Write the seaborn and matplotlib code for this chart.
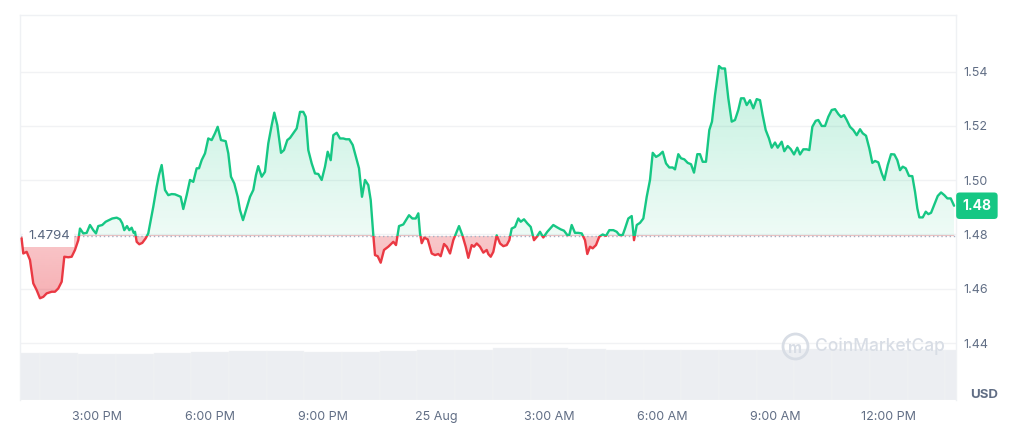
import numpy as np
import pandas as pd
import seaborn as sns
import matplotlib.pyplot as plt
import matplotlib.transforms as mtransforms
from matplotlib.patches import Polygon, Rectangle

# hours counted from 24 Aug 00:00
hours = [
    13.000, 13.045, 13.135, 13.223, 13.310, 13.400, 13.488, 13.575, 13.666, 13.798,
    13.886, 13.973, 14.064, 14.133, 14.239, 14.329, 14.416, 14.504, 14.549, 14.637,
    14.727, 14.814, 14.902, 14.973, 15.034, 15.140, 15.231, 15.318, 15.406, 15.523,
    15.610, 15.671, 15.724, 15.796, 15.857, 15.920, 15.973, 16.008, 16.053, 16.122,
    16.201, 16.292, 16.360, 16.493, 16.583, 16.644, 16.716, 16.804, 16.891, 16.981,
    17.069, 17.156, 17.220, 17.289, 17.379, 17.467, 17.554, 17.644, 17.706, 17.777,
    17.865, 17.952, 18.042, 18.130, 18.201, 18.289, 18.414, 18.483, 18.554, 18.642,
    18.732, 18.793, 18.873, 18.952, 19.059, 19.146, 19.217, 19.278, 19.369, 19.456,
    19.544, 19.634, 19.703, 19.783, 19.881, 19.960, 20.048, 20.120, 20.207, 20.297,
    20.385, 20.472, 20.536, 20.605, 20.695, 20.783, 20.870, 20.960, 21.048, 21.119,
    21.199, 21.268, 21.358, 21.446, 21.533, 21.605, 21.692, 21.783, 21.870, 21.950,
    22.029, 22.109, 22.197, 22.260, 22.329, 22.374, 22.445, 22.525, 22.613, 22.727,
    22.860, 22.931, 23.011, 23.125, 23.196, 23.276, 23.364, 23.454, 23.523, 23.568,
    23.613, 23.682, 23.772, 23.878, 23.966, 24.053, 24.117, 24.205, 24.276, 24.364,
    24.451, 24.541, 24.602, 24.690, 24.780, 24.849, 24.939, 25.000, 25.072, 25.159,
    25.247, 25.337, 25.379, 25.443, 25.512, 25.602, 25.690, 25.777, 25.868, 25.937,
    26.000, 26.088, 26.175, 26.239, 26.326, 26.414, 26.504, 26.591, 26.663, 26.750,
    26.838, 26.944, 27.103, 27.209, 27.299, 27.387, 27.474, 27.527, 27.591, 27.678,
    27.766, 27.857, 27.944, 28.005, 28.077, 28.148, 28.236, 28.323, 28.413, 28.502,
    28.589, 28.695, 28.785, 28.854, 28.944, 29.005, 29.093, 29.183, 29.244, 29.316,
    29.403, 29.491, 29.581, 29.668, 29.740, 29.828, 29.915, 30.005, 30.093, 30.180,
    30.270, 30.331, 30.419, 30.490, 30.578, 30.668, 30.756, 30.835, 30.923, 30.994,
    31.066, 31.153, 31.241, 31.312, 31.392, 31.498, 31.570, 31.657, 31.745, 31.835,
    31.922, 32.010, 32.082, 32.161, 32.233, 32.320, 32.408, 32.498, 32.586, 32.657,
    32.737, 32.824, 32.896, 32.984, 33.055, 33.161, 33.230, 33.320, 33.400, 33.488,
    33.575, 33.647, 33.734, 33.824, 33.894, 33.974, 34.063, 34.132, 34.223, 34.311,
    34.398, 34.488, 34.576, 34.663, 34.735, 34.814, 34.886, 34.973, 35.061, 35.151,
    35.239, 35.310, 35.398, 35.486, 35.565, 35.637, 35.724, 35.815, 35.884, 35.974,
    36.061, 36.149, 36.228, 36.300, 36.371, 36.451, 36.538, 36.626, 36.698, 36.759,
    36.812, 36.902, 36.982, 37.051, 37.123, 37.210, 37.300, 37.388, 37.475, 37.555,
    37.645, 37.733,
]

prices = [
    1.4786, 1.4730, 1.4736, 1.4706, 1.4620, 1.4595, 1.4565, 1.4570, 1.4583, 1.4589,
    1.4589, 1.4601, 1.4626, 1.4718, 1.4716, 1.4718, 1.4743, 1.4779, 1.4822, 1.4804,
    1.4806, 1.4835, 1.4816, 1.4804, 1.4831, 1.4835, 1.4847, 1.4853, 1.4859, 1.4862,
    1.4856, 1.4841, 1.4816, 1.4831, 1.4816, 1.4825, 1.4806, 1.4810, 1.4773, 1.4764,
    1.4769, 1.4786, 1.4804, 1.4902, 1.4976, 1.5019, 1.5056, 1.4964, 1.4945, 1.4949,
    1.4948, 1.4943, 1.4939, 1.4894, 1.4945, 1.5001, 1.4994, 1.5044, 1.5044, 1.5074,
    1.5099, 1.5154, 1.5148, 1.5173, 1.5197, 1.5148, 1.5144, 1.5099, 1.5013, 1.4988,
    1.4939, 1.4890, 1.4853, 1.4890, 1.4939, 1.4964, 1.5019, 1.5052, 1.5013, 1.5031,
    1.5136, 1.5203, 1.5249, 1.5203, 1.5101, 1.5111, 1.5148, 1.5156, 1.5173, 1.5191,
    1.5252, 1.5252, 1.5234, 1.5111, 1.5062, 1.5025, 1.5023, 1.5001, 1.5050, 1.5105,
    1.5074, 1.5166, 1.5175, 1.5154, 1.5154, 1.5151, 1.5151, 1.5130, 1.5086, 1.5044,
    1.4939, 1.5001, 1.4982, 1.4927, 1.4798, 1.4724, 1.4720, 1.4696, 1.4743, 1.4755,
    1.4773, 1.4761, 1.4831, 1.4837, 1.4853, 1.4871, 1.4859, 1.4859, 1.4878, 1.4804,
    1.4768, 1.4788, 1.4782, 1.4730, 1.4724, 1.4728, 1.4720, 1.4765, 1.4755, 1.4730,
    1.4779, 1.4810, 1.4831, 1.4798, 1.4755, 1.4714, 1.4761, 1.4755, 1.4767, 1.4755,
    1.4733, 1.4743, 1.4728, 1.4718, 1.4736, 1.4797, 1.4767, 1.4757, 1.4761, 1.4779,
    1.4822, 1.4828, 1.4859, 1.4847, 1.4856, 1.4841, 1.4828, 1.4779, 1.4791, 1.4810,
    1.4789, 1.4810, 1.4835, 1.4826, 1.4819, 1.4814, 1.4798, 1.4798, 1.4835, 1.4806,
    1.4806, 1.4804, 1.4779, 1.4728, 1.4755, 1.4749, 1.4761, 1.4792, 1.4800, 1.4795,
    1.4816, 1.4816, 1.4810, 1.4798, 1.4798, 1.4822, 1.4859, 1.4868, 1.4779, 1.4835,
    1.4843, 1.4859, 1.4939, 1.5001, 1.5101, 1.5086, 1.5093, 1.5105, 1.5062, 1.5047,
    1.5047, 1.5040, 1.5096, 1.5081, 1.5077, 1.5064, 1.5059, 1.5028, 1.5096, 1.5096,
    1.5068, 1.5068, 1.5185, 1.5216, 1.5314, 1.5421, 1.5412, 1.5412, 1.5302, 1.5216,
    1.5222, 1.5259, 1.5302, 1.5302, 1.5277, 1.5295, 1.5265, 1.5299, 1.5295, 1.5240,
    1.5185, 1.5154, 1.5120, 1.5139, 1.5120, 1.5142, 1.5107, 1.5126, 1.5115, 1.5095,
    1.5120, 1.5095, 1.5114, 1.5114, 1.5111, 1.5197, 1.5219, 1.5222, 1.5200, 1.5200,
    1.5234, 1.5259, 1.5262, 1.5244, 1.5233, 1.5240, 1.5222, 1.5197, 1.5185, 1.5166,
    1.5188, 1.5173, 1.5164, 1.5117, 1.5064, 1.5071, 1.5066, 1.5025, 1.5001, 1.5056,
    1.5096, 1.5095, 1.5074, 1.5037, 1.5050, 1.5044, 1.5016, 1.5015, 1.4957, 1.4896,
    1.4863, 1.4863, 1.4884, 1.4875, 1.4880, 1.4911, 1.4942, 1.4955, 1.4945, 1.4933,
    1.4933, 1.4906,
]

open_price = 1.4794
last_label = "1.48"

# hourly volume (relative), bars centred on the hour
vol_hours = list(range(13, 39))
volume = [4.85, 4.85, 4.80, 4.75, 4.85, 4.95, 5.05, 5.05, 5.00, 4.95,
          5.10, 5.15, 5.20, 5.40, 5.45, 5.30, 5.20, 5.15, 5.15, 5.15,
          5.20, 5.30, 5.25, 5.20, 5.15, 5.15]

tick_hours = [15, 18, 21, 24, 27, 30, 33, 36]
tick_labels = ["3:00 PM", "6:00 PM", "9:00 PM", "25 Aug",
               "3:00 AM", "6:00 AM", "9:00 AM", "12:00 PM"]
price_ticks = [1.44, 1.46, 1.48, 1.50, 1.52, 1.54]

GREEN = "#16c784"
RED = "#ea3943"
GREY = "#616e85"

sns.set_theme(style="white")
plt.rcParams["font.family"] = ["Inter", "DejaVu Sans"]

df = pd.DataFrame({"hour": hours, "price": prices})

fig = plt.figure(figsize=(10.15, 4.3), dpi=100)
ax = fig.add_axes([0.0197, 0.0698, 0.9222, 0.8953])
x0, x1 = 12.958, 37.785
y0, y1 = 1.419, 1.5609

# volume strip behind the price
vax = ax.twinx()
vax.bar(vol_hours, volume, width=1.0, color="#eceef2", edgecolor="#f3f4f6", linewidth=0.3)
vax.set_ylim(0, 40)
vax.axis("off")
ax.set_zorder(vax.get_zorder() + 1)
ax.patch.set_visible(False)

# gradient fills between price and open
area = Polygon(np.column_stack([np.r_[hours, hours[-1], hours[0]],
                                np.r_[prices, open_price, open_price]]),
               closed=True, facecolor="none", edgecolor="none", transform=ax.transData)
ax.add_patch(area)

grad = np.linspace(0, 1, 256)
green_img = np.zeros((256, 1, 4))
green_img[..., :3] = np.array([22, 199, 132]) / 255
green_img[:, 0, 3] = 0.07 + 0.19 * grad
im = ax.imshow(green_img, extent=[x0, x1, open_price, max(prices)], origin="lower",
               aspect="auto", zorder=1, interpolation="bilinear")
im.set_clip_path(area)

red_img = np.zeros((256, 1, 4))
red_img[..., :3] = np.array([234, 57, 67]) / 255
red_img[:, 0, 3] = 0.40 - 0.12 * grad
im2 = ax.imshow(red_img, extent=[x0, x1, min(prices), open_price], origin="lower",
                aspect="auto", zorder=1, interpolation="bilinear")
im2.set_clip_path(area)

ax.axhline(open_price, color="#a6b0c3", linestyle=(0, (1, 2)), linewidth=1, zorder=2)

# price line, green above open and red below
sns.lineplot(data=df, x="hour", y="price", color=GREEN, linewidth=1.7,
             estimator=None, ax=ax, zorder=4)
ax.lines[-1].set_clip_path(Rectangle((x0, open_price), x1 - x0, 1, transform=ax.transData))
sns.lineplot(data=df, x="hour", y="price", color=RED, linewidth=1.7,
             estimator=None, ax=ax, zorder=4)
ax.lines[-1].set_clip_path(Rectangle((x0, open_price - 1), x1 - x0, 1, transform=ax.transData))

ax.set_xlim(x0, x1)
ax.set_ylim(y0, y1)
ax.set_xlabel("")
ax.set_ylabel("")

ax.set_xticks(tick_hours)
ax.set_xticklabels(tick_labels)
ax.yaxis.tick_right()
ax.set_yticks(price_ticks)
ax.set_yticklabels([f"{t:.2f}" for t in price_ticks])
ax.tick_params(axis="x", length=0, pad=8, labelsize=9, labelcolor=GREY)
ax.tick_params(axis="y", length=0, pad=5, labelsize=9, labelcolor=GREY)
ax.grid(False)
ax.yaxis.grid(True, color="#f1f2f4", linewidth=1)
ax.set_axisbelow(True)

for side in ["left", "top", "right"]:
    ax.spines[side].set_color("#eff1f4")
    ax.spines[side].set_linewidth(1)
ax.spines["bottom"].set_visible(False)

mixed = mtransforms.blended_transform_factory(ax.transAxes, ax.transData)
ax.text(0.0085, open_price, f"{open_price:.4f}", transform=mixed, ha="left", va="center",
        fontsize=9.5, color="#58667e", zorder=3,
        bbox=dict(boxstyle="square,pad=0.35", fc="white", ec="none"))

ax.text(1.0068, prices[-1], last_label, transform=mixed, ha="left", va="center",
        fontsize=10, fontweight="bold", color="white", clip_on=False, zorder=5,
        bbox=dict(boxstyle="round,pad=0.45,rounding_size=0.25", fc=GREEN, ec="none"))

# watermark
ax.plot([0.828], [0.140], marker="o", markersize=18, markerfacecolor="none",
        markeredgecolor="#d8dde5", markeredgewidth=2, transform=ax.transAxes, zorder=2)
ax.text(0.828, 0.135, "m", transform=ax.transAxes, ha="center", va="center",
        fontsize=11, fontweight="bold", color="#d8dde5", zorder=2)
ax.text(0.849, 0.140, "CoinMarketCap", transform=ax.transAxes, ha="left", va="center",
        fontsize=12.5, fontweight="medium", color="#d8dde5", zorder=2)

fig.text(984 / 1015, 1 - 395 / 430, "USD", ha="center", va="center",
         fontsize=9.5, fontweight="bold", color=GREY)

fig.savefig("out.png", dpi=100)
